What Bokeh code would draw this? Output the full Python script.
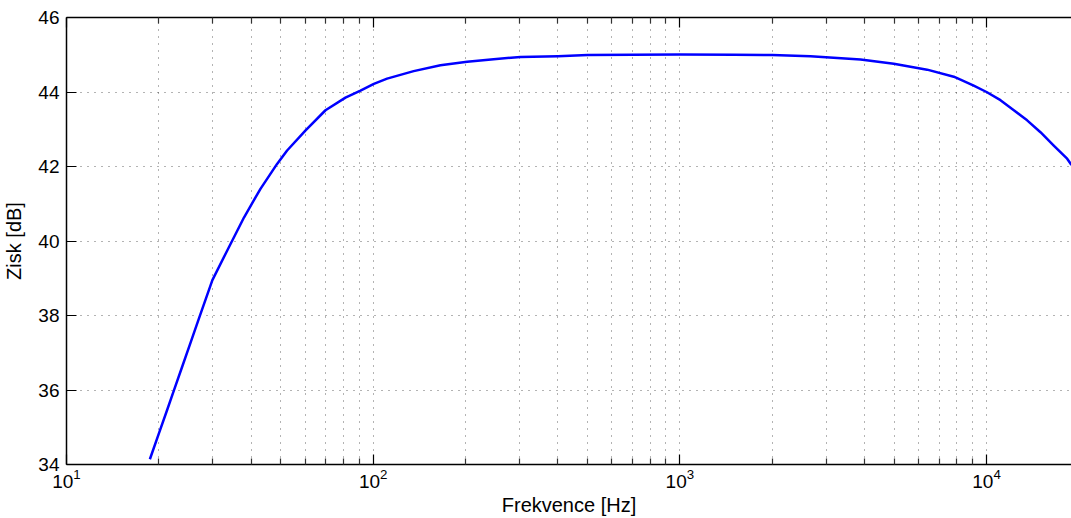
from bokeh.plotting import figure
from bokeh.models import FixedTicker, LogAxis, CustomJSTickFormatter, Range1d, ColumnDataSource
from bokeh.embed import file_html
from bokeh.resources import INLINE

# Data
freq_hz = [18.7, 20.0, 21.3, 22.4, 23.8, 25.4, 27.0, 29.9, 33.4, 37.9, 42.9, 48.6, 52.4,
           60.2, 69.9, 81.2, 90.9, 100.5, 111, 135.5, 165.7, 202.5, 247, 302, 400, 500,
           700, 1000, 1500, 2000, 2666, 3881, 4983, 6400, 7817, 8222, 9080, 10000, 11100,
           12270, 13560, 14990, 16560, 18310, 18920]
gain_db = [34.14, 34.83, 35.47, 35.99, 36.61, 37.28, 37.91, 38.95, 39.74, 40.63, 41.40, 42.07, 42.43,
           42.97, 43.51, 43.85, 44.04, 44.22, 44.36, 44.56, 44.72, 44.81, 44.88, 44.94, 44.96, 44.99,
           45.00, 45.01, 45.00, 44.99, 44.96, 44.87, 44.76, 44.60, 44.41, 44.33, 44.17, 44.00, 43.78,
           43.51, 43.24, 42.92, 42.56, 42.21, 42.04]

x_major = [10, 100, 1000, 10000]
x_minor = [m * d for d in [10, 100, 1000, 10000] for m in range(2, 10)]
y_major = [34, 36, 38, 40, 42, 44, 46]

x_label = "Frekvence [Hz]"
y_label = "Zisk [dB]"

FONT = "Liberation Sans"

p = figure(x_axis_type="log", x_range=Range1d(10, 18920), y_range=Range1d(34, 46),
           width=1071, height=518,
           output_backend="svg", toolbar_location=None,
           min_border_left=66, min_border_top=17, min_border_right=0, min_border_bottom=0,
           background_fill_color="white", border_fill_color="white")

src = ColumnDataSource(dict(f=freq_hz, g=gain_db))
p.line("f", "g", source=src, line_color="#0000ff", line_width=2.5, line_join="round")

xt = FixedTicker(ticks=x_major, minor_ticks=x_minor)
yt = FixedTicker(ticks=y_major, minor_ticks=[])

xa = p.xaxis[0]
xa.ticker = xt
ya = p.yaxis[0]
ya.ticker = yt

for ax in (xa, ya):
    ax.major_tick_in = 10
    ax.major_tick_out = 0
    ax.minor_tick_in = 6
    ax.minor_tick_out = 0
    ax.axis_line_color = "black"
    ax.axis_line_width = 1.5
    ax.major_tick_line_color = "black"
    ax.major_tick_line_width = 1.2
    ax.minor_tick_line_color = "#333333"
    ax.minor_tick_line_width = 1.2
    ax.major_label_text_font = FONT
    ax.major_label_text_font_size = "19px"
    ax.major_label_text_color = "black"
    ax.axis_label_text_font = FONT
    ax.axis_label_text_font_size = "20px"
    ax.axis_label_text_font_style = "normal"
    ax.axis_label_text_color = "black"

ya.minor_tick_line_color = None
xa.axis_label = x_label
ya.axis_label = y_label
xa.major_label_standoff = 4
xa.axis_label_standoff = 3
ya.major_label_standoff = 7
ya.axis_label_standoff = 10

top = LogAxis(ticker=xt, formatter=CustomJSTickFormatter(code="return ''"),
              major_tick_in=10, major_tick_out=0, minor_tick_in=6, minor_tick_out=0,
              major_label_standoff=0, major_label_text_font_size="1px",
              axis_line_color="black", axis_line_width=1.5,
              major_tick_line_color="black", major_tick_line_width=1.2,
              minor_tick_line_color="#333333", minor_tick_line_width=1.2)
p.add_layout(top, "above")

p.xgrid.grid_line_color = "black"
p.xgrid.grid_line_alpha = 0.6
p.xgrid.grid_line_dash = "1 6"
p.xgrid.minor_grid_line_color = "black"
p.xgrid.minor_grid_line_alpha = 0.6
p.xgrid.minor_grid_line_dash = "1 6"
p.ygrid.grid_line_color = "black"
p.ygrid.grid_line_alpha = 0.6
p.ygrid.grid_line_dash = "1 6"

p.outline_line_color = None

open("out.html", "w").write(file_html(p, INLINE))
